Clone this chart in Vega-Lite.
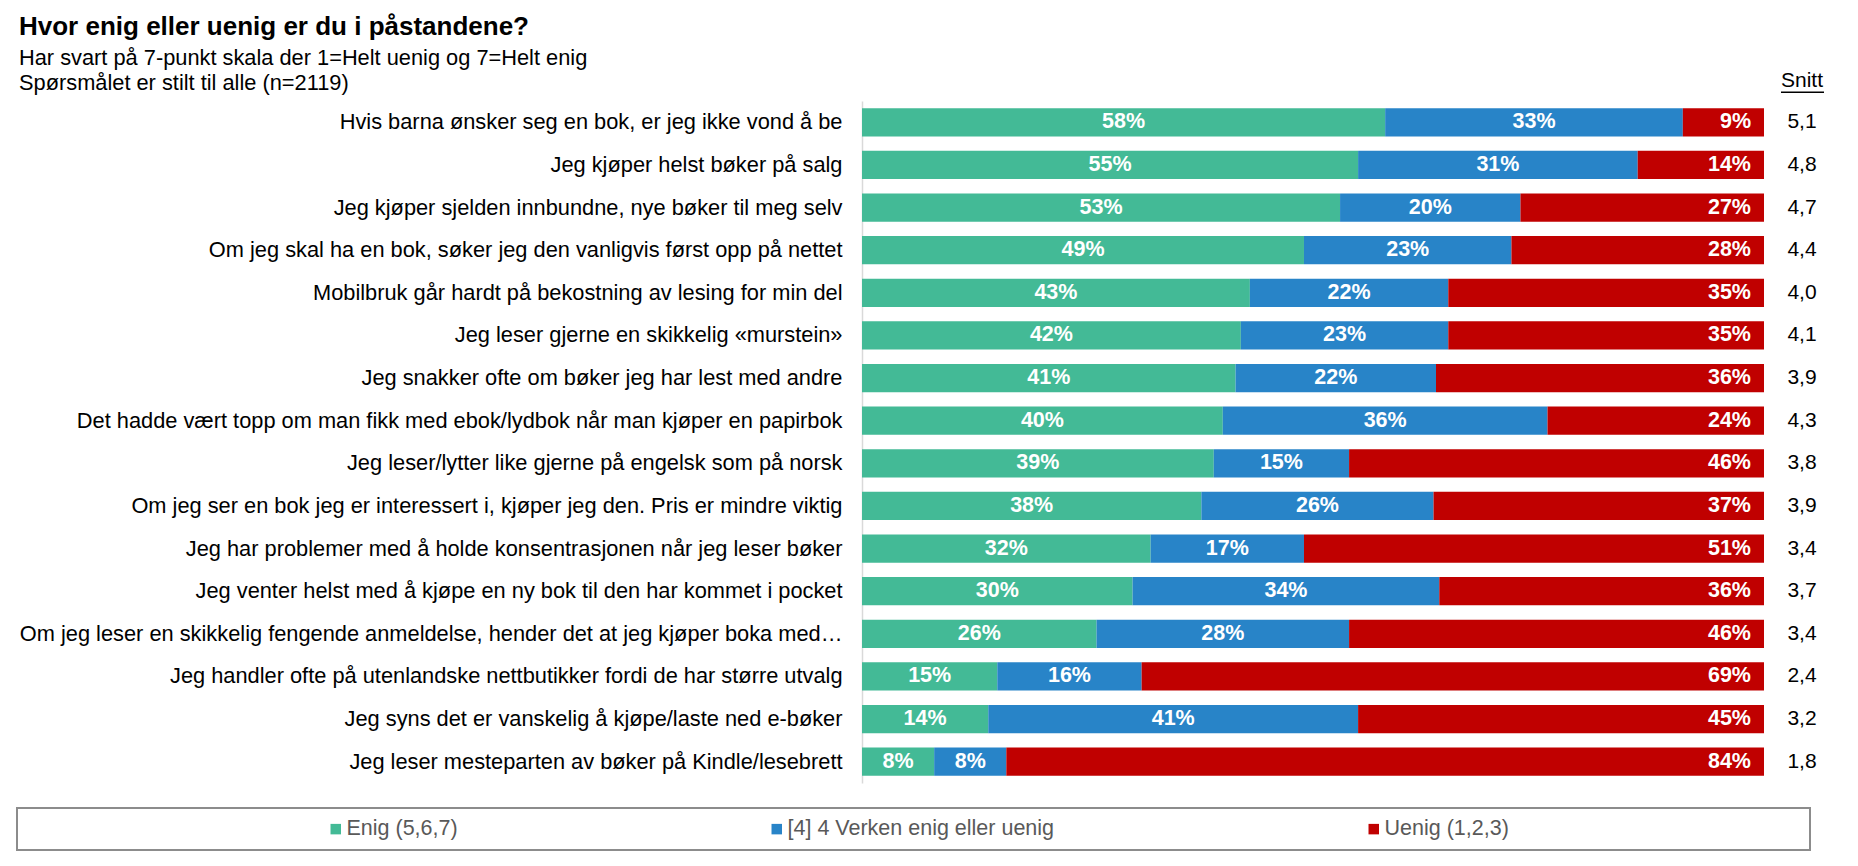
{
  "$schema": "https://vega.github.io/schema/vega-lite/v6.json",
  "width": 902,
  "height": 682,
  "autosize": {"type": "none"},
  "padding": {"left": 862, "top": 101, "right": 94, "bottom": 83},
  "background": "white",
  "config": {
    "font": "Liberation Sans",
    "view": {"stroke": null},
    "locale": {"number": {"decimal": ",", "thousands": " ", "grouping": [3], "currency": ["", " kr"]}},
    "legend": {"strokeColor": "#8C8C8C", "strokeWidth": 2, "padding": 10}
  },
  "title": {
    "text": "Hvor enig eller uenig er du i påstandene?",
    "subtitle": ["Har svart på 7-punkt skala der 1=Helt uenig og 7=Helt enig", "Spørsmålet er stilt til alle (n=2119)"],
    "anchor": "start",
    "frame": "group",
    "dx": -843,
    "fontSize": 26,
    "fontWeight": "bold",
    "color": "black",
    "subtitleFontSize": 21.8,
    "subtitleColor": "black",
    "subtitlePadding": 8,
    "subtitleLineHeight": 25,
    "offset": -24
  },
  "datasets": {
    "bars": [
      {"q": "Hvis barna ønsker seg en bok, er jeg ikke vond å be", "c": "Enig (5,6,7)", "o": 1, "p": 0.58, "s": 5.1},
      {"q": "Hvis barna ønsker seg en bok, er jeg ikke vond å be", "c": "[4] 4 Verken enig eller uenig", "o": 2, "p": 0.33, "s": 5.1},
      {"q": "Hvis barna ønsker seg en bok, er jeg ikke vond å be", "c": "Uenig (1,2,3)", "o": 3, "p": 0.09, "s": 5.1},
      {"q": "Jeg kjøper helst bøker på salg", "c": "Enig (5,6,7)", "o": 1, "p": 0.55, "s": 4.8},
      {"q": "Jeg kjøper helst bøker på salg", "c": "[4] 4 Verken enig eller uenig", "o": 2, "p": 0.31, "s": 4.8},
      {"q": "Jeg kjøper helst bøker på salg", "c": "Uenig (1,2,3)", "o": 3, "p": 0.14, "s": 4.8},
      {"q": "Jeg kjøper sjelden innbundne, nye bøker til meg selv", "c": "Enig (5,6,7)", "o": 1, "p": 0.53, "s": 4.7},
      {"q": "Jeg kjøper sjelden innbundne, nye bøker til meg selv", "c": "[4] 4 Verken enig eller uenig", "o": 2, "p": 0.20, "s": 4.7},
      {"q": "Jeg kjøper sjelden innbundne, nye bøker til meg selv", "c": "Uenig (1,2,3)", "o": 3, "p": 0.27, "s": 4.7},
      {"q": "Om jeg skal ha en bok, søker jeg den vanligvis først opp på nettet", "c": "Enig (5,6,7)", "o": 1, "p": 0.49, "s": 4.4},
      {"q": "Om jeg skal ha en bok, søker jeg den vanligvis først opp på nettet", "c": "[4] 4 Verken enig eller uenig", "o": 2, "p": 0.23, "s": 4.4},
      {"q": "Om jeg skal ha en bok, søker jeg den vanligvis først opp på nettet", "c": "Uenig (1,2,3)", "o": 3, "p": 0.28, "s": 4.4},
      {"q": "Mobilbruk går hardt på bekostning av lesing for min del", "c": "Enig (5,6,7)", "o": 1, "p": 0.43, "s": 4.0},
      {"q": "Mobilbruk går hardt på bekostning av lesing for min del", "c": "[4] 4 Verken enig eller uenig", "o": 2, "p": 0.22, "s": 4.0},
      {"q": "Mobilbruk går hardt på bekostning av lesing for min del", "c": "Uenig (1,2,3)", "o": 3, "p": 0.35, "s": 4.0},
      {"q": "Jeg leser gjerne en skikkelig «murstein»", "c": "Enig (5,6,7)", "o": 1, "p": 0.42, "s": 4.1},
      {"q": "Jeg leser gjerne en skikkelig «murstein»", "c": "[4] 4 Verken enig eller uenig", "o": 2, "p": 0.23, "s": 4.1},
      {"q": "Jeg leser gjerne en skikkelig «murstein»", "c": "Uenig (1,2,3)", "o": 3, "p": 0.35, "s": 4.1},
      {"q": "Jeg snakker ofte om bøker jeg har lest med andre", "c": "Enig (5,6,7)", "o": 1, "p": 0.41, "s": 3.9},
      {"q": "Jeg snakker ofte om bøker jeg har lest med andre", "c": "[4] 4 Verken enig eller uenig", "o": 2, "p": 0.22, "s": 3.9},
      {"q": "Jeg snakker ofte om bøker jeg har lest med andre", "c": "Uenig (1,2,3)", "o": 3, "p": 0.36, "s": 3.9},
      {"q": "Det hadde vært topp om man fikk med ebok/lydbok når man kjøper en papirbok", "c": "Enig (5,6,7)", "o": 1, "p": 0.40, "s": 4.3},
      {"q": "Det hadde vært topp om man fikk med ebok/lydbok når man kjøper en papirbok", "c": "[4] 4 Verken enig eller uenig", "o": 2, "p": 0.36, "s": 4.3},
      {"q": "Det hadde vært topp om man fikk med ebok/lydbok når man kjøper en papirbok", "c": "Uenig (1,2,3)", "o": 3, "p": 0.24, "s": 4.3},
      {"q": "Jeg leser/lytter like gjerne på engelsk som på norsk", "c": "Enig (5,6,7)", "o": 1, "p": 0.39, "s": 3.8},
      {"q": "Jeg leser/lytter like gjerne på engelsk som på norsk", "c": "[4] 4 Verken enig eller uenig", "o": 2, "p": 0.15, "s": 3.8},
      {"q": "Jeg leser/lytter like gjerne på engelsk som på norsk", "c": "Uenig (1,2,3)", "o": 3, "p": 0.46, "s": 3.8},
      {"q": "Om jeg ser en bok jeg er interessert i, kjøper jeg den. Pris er mindre viktig", "c": "Enig (5,6,7)", "o": 1, "p": 0.38, "s": 3.9},
      {"q": "Om jeg ser en bok jeg er interessert i, kjøper jeg den. Pris er mindre viktig", "c": "[4] 4 Verken enig eller uenig", "o": 2, "p": 0.26, "s": 3.9},
      {"q": "Om jeg ser en bok jeg er interessert i, kjøper jeg den. Pris er mindre viktig", "c": "Uenig (1,2,3)", "o": 3, "p": 0.37, "s": 3.9},
      {"q": "Jeg har problemer med å holde konsentrasjonen når jeg leser bøker", "c": "Enig (5,6,7)", "o": 1, "p": 0.32, "s": 3.4},
      {"q": "Jeg har problemer med å holde konsentrasjonen når jeg leser bøker", "c": "[4] 4 Verken enig eller uenig", "o": 2, "p": 0.17, "s": 3.4},
      {"q": "Jeg har problemer med å holde konsentrasjonen når jeg leser bøker", "c": "Uenig (1,2,3)", "o": 3, "p": 0.51, "s": 3.4},
      {"q": "Jeg venter helst med å kjøpe en ny bok til den har kommet i pocket", "c": "Enig (5,6,7)", "o": 1, "p": 0.30, "s": 3.7},
      {"q": "Jeg venter helst med å kjøpe en ny bok til den har kommet i pocket", "c": "[4] 4 Verken enig eller uenig", "o": 2, "p": 0.34, "s": 3.7},
      {"q": "Jeg venter helst med å kjøpe en ny bok til den har kommet i pocket", "c": "Uenig (1,2,3)", "o": 3, "p": 0.36, "s": 3.7},
      {"q": "Om jeg leser en skikkelig fengende anmeldelse, hender det at jeg kjøper boka med…", "c": "Enig (5,6,7)", "o": 1, "p": 0.26, "s": 3.4},
      {"q": "Om jeg leser en skikkelig fengende anmeldelse, hender det at jeg kjøper boka med…", "c": "[4] 4 Verken enig eller uenig", "o": 2, "p": 0.28, "s": 3.4},
      {"q": "Om jeg leser en skikkelig fengende anmeldelse, hender det at jeg kjøper boka med…", "c": "Uenig (1,2,3)", "o": 3, "p": 0.46, "s": 3.4},
      {"q": "Jeg handler ofte på utenlandske nettbutikker fordi de har større utvalg", "c": "Enig (5,6,7)", "o": 1, "p": 0.15, "s": 2.4},
      {"q": "Jeg handler ofte på utenlandske nettbutikker fordi de har større utvalg", "c": "[4] 4 Verken enig eller uenig", "o": 2, "p": 0.16, "s": 2.4},
      {"q": "Jeg handler ofte på utenlandske nettbutikker fordi de har større utvalg", "c": "Uenig (1,2,3)", "o": 3, "p": 0.69, "s": 2.4},
      {"q": "Jeg syns det er vanskelig å kjøpe/laste ned e-bøker", "c": "Enig (5,6,7)", "o": 1, "p": 0.14, "s": 3.2},
      {"q": "Jeg syns det er vanskelig å kjøpe/laste ned e-bøker", "c": "[4] 4 Verken enig eller uenig", "o": 2, "p": 0.41, "s": 3.2},
      {"q": "Jeg syns det er vanskelig å kjøpe/laste ned e-bøker", "c": "Uenig (1,2,3)", "o": 3, "p": 0.45, "s": 3.2},
      {"q": "Jeg leser mesteparten av bøker på Kindle/lesebrett", "c": "Enig (5,6,7)", "o": 1, "p": 0.08, "s": 1.8},
      {"q": "Jeg leser mesteparten av bøker på Kindle/lesebrett", "c": "[4] 4 Verken enig eller uenig", "o": 2, "p": 0.08, "s": 1.8},
      {"q": "Jeg leser mesteparten av bøker på Kindle/lesebrett", "c": "Uenig (1,2,3)", "o": 3, "p": 0.84, "s": 1.8}
    ],
    "head": [
      {"q": "Hvis barna ønsker seg en bok, er jeg ikke vond å be", "h": "Snitt"}
    ]
  },
  "encoding": {
    "y": {
      "field": "q",
      "type": "nominal",
      "sort": [
        "Hvis barna ønsker seg en bok, er jeg ikke vond å be",
        "Jeg kjøper helst bøker på salg",
        "Jeg kjøper sjelden innbundne, nye bøker til meg selv",
        "Om jeg skal ha en bok, søker jeg den vanligvis først opp på nettet",
        "Mobilbruk går hardt på bekostning av lesing for min del",
        "Jeg leser gjerne en skikkelig «murstein»",
        "Jeg snakker ofte om bøker jeg har lest med andre",
        "Det hadde vært topp om man fikk med ebok/lydbok når man kjøper en papirbok",
        "Jeg leser/lytter like gjerne på engelsk som på norsk",
        "Om jeg ser en bok jeg er interessert i, kjøper jeg den. Pris er mindre viktig",
        "Jeg har problemer med å holde konsentrasjonen når jeg leser bøker",
        "Jeg venter helst med å kjøpe en ny bok til den har kommet i pocket",
        "Om jeg leser en skikkelig fengende anmeldelse, hender det at jeg kjøper boka med…",
        "Jeg handler ofte på utenlandske nettbutikker fordi de har større utvalg",
        "Jeg syns det er vanskelig å kjøpe/laste ned e-bøker",
        "Jeg leser mesteparten av bøker på Kindle/lesebrett"
      ],
      "scale": {"paddingInner": 0.34, "paddingOuter": 0.17},
      "axis": {
        "title": null,
        "labelFontSize": 21.8,
        "labelColor": "black",
        "labelPadding": 20,
        "labelLimit": 900,
        "ticks": false,
        "grid": false,
        "domainColor": "#D9D9D9",
        "domainWidth": 1.5
      }
    }
  },
  "layer": [
    {
      "data": {"name": "bars"},
      "transform": [
        {"stack": "p", "groupby": ["q"], "offset": "normalize", "sort": [{"field": "o", "order": "ascending"}], "as": ["x0", "x1"]}
      ],
      "mark": {"type": "bar"},
      "encoding": {
        "x": {"field": "x0", "type": "quantitative", "scale": {"domain": [0, 1], "nice": false, "zero": false}, "axis": null},
        "x2": {"field": "x1"},
        "color": {
          "field": "c",
          "type": "nominal",
          "scale": {
            "domain": ["Enig (5,6,7)", "[4] 4 Verken enig eller uenig", "Uenig (1,2,3)"],
            "range": ["#43BA96", "#2884C8", "#C00000"]
          },
          "legend": {
            "title": " ",
            "titleOrient": "right",
            "titleFontSize": 1,
            "titlePadding": 291,
            "orient": "none",
            "legendX": -845,
            "legendY": 707,
            "direction": "horizontal",
            "symbolType": "square",
            "symbolSize": 110,
            "symbolStrokeWidth": 0,
            "symbolOffset": 298,
            "columnPadding": 10,
            "labelFontSize": 21.5,
            "labelColor": "#595959",
            "labelOffset": 0,
            "labelLimit": 400
          }
        }
      }
    },
    {
      "data": {"name": "bars"},
      "transform": [
        {"stack": "p", "groupby": ["q"], "offset": "normalize", "sort": [{"field": "o", "order": "ascending"}], "as": ["x0", "x1"]},
        {"filter": "datum.o < 3"},
        {"calculate": "(datum.x0 + datum.x1) / 2", "as": "xm"}
      ],
      "mark": {"type": "text", "color": "white", "fontWeight": "bold", "fontSize": 21.5, "align": "center", "baseline": "middle"},
      "encoding": {
        "x": {"field": "xm", "type": "quantitative"},
        "text": {"field": "p", "type": "quantitative", "format": ".0%"}
      }
    },
    {
      "data": {"name": "bars"},
      "transform": [
        {"stack": "p", "groupby": ["q"], "offset": "normalize", "sort": [{"field": "o", "order": "ascending"}], "as": ["x0", "x1"]},
        {"filter": "datum.o == 3"}
      ],
      "mark": {"type": "text", "color": "white", "fontWeight": "bold", "fontSize": 21.5, "align": "right", "baseline": "middle", "dx": -13},
      "encoding": {
        "x": {"field": "x1", "type": "quantitative"},
        "text": {"field": "p", "type": "quantitative", "format": ".0%"}
      }
    },
    {
      "data": {"name": "bars"},
      "transform": [{"filter": "datum.o == 3"}],
      "mark": {"type": "text", "color": "black", "fontSize": 21, "align": "center", "baseline": "middle", "dx": 38},
      "encoding": {
        "x": {"datum": 1},
        "text": {"field": "s", "type": "quantitative", "format": ".1f"}
      }
    },
    {
      "data": {"name": "head"},
      "mark": {"type": "text", "color": "black", "fontSize": 21, "align": "center", "baseline": "middle", "dx": 38, "dy": -41},
      "encoding": {
        "x": {"datum": 1},
        "text": {"field": "h", "type": "nominal"}
      }
    },
    {
      "data": {"name": "head"},
      "mark": {"type": "rule", "color": "black", "strokeWidth": 1.5, "xOffset": 17, "x2Offset": 60, "yOffset": -30},
      "encoding": {
        "x": {"datum": 1},
        "x2": {"datum": 1}
      }
    }
  ]
}
